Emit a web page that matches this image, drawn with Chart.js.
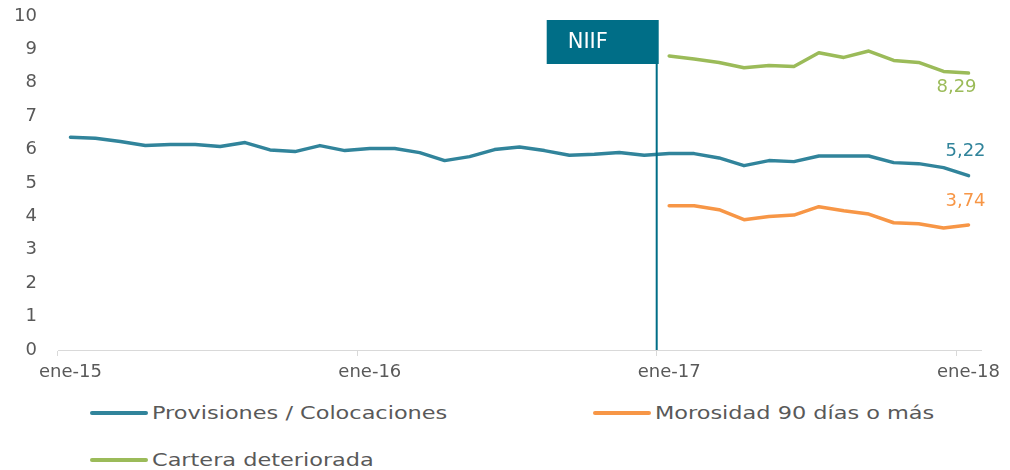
<!DOCTYPE html>
<html lang="es">
<head>
    <meta charset="UTF-8">
    <title>Provisiones y morosidad</title>
    <script src="https://cdn.jsdelivr.net/npm/chart.js"></script>
    <style>
        body {
            margin: 0;
            background: #ffffff;
            font-family: "DejaVu Sans", Verdana, sans-serif;
        }
        .wrap {
            position: relative;
            width: 1010px;
            height: 470px;
        }
        .chart-box {
            position: absolute;
            left: 0;
            top: 0;
            width: 1010px;
            height: 390px;
        }
        .legend-item {
            position: absolute;
            height: 24px;
            display: flex;
            align-items: center;
        }
        .legend-item .swatch {
            width: 58px;
            height: 4px;
            border-radius: 2px;
            margin-right: 4px;
        }
        .legend-item .txt {
            display: inline-block;
            font-size: 17.5px;
            color: #595959;
            white-space: nowrap;
            transform: scaleX(1.28);
            transform-origin: left center;
        }
    </style>
</head>
<body>
<div class="wrap">
    <div class="chart-box"><canvas id="chart"></canvas></div>
    <div id="legend"></div>
</div>

<script>
    // month labels, ene-15 .. ene-18
    var meses = ['ene', 'feb', 'mar', 'abr', 'may', 'jun', 'jul', 'ago', 'sep', 'oct', 'nov', 'dic'];
    var labels = [];
    ['15', '16', '17'].forEach(function (y) {
        meses.forEach(function (m) { labels.push(m + '-' + y); });
    });
    labels.push('ene-18');

    // Provisiones / Colocaciones, ene-15 .. ene-18
    var provisiones = [6.37, 6.34, 6.24, 6.12, 6.15, 6.15, 6.09, 6.21, 5.99, 5.94, 6.12, 5.97,
                       6.03, 6.03, 5.91, 5.67, 5.79, 6.00, 6.08, 5.97, 5.83, 5.86, 5.91, 5.83,
                       5.88, 5.88, 5.75, 5.52, 5.67, 5.64, 5.81, 5.81, 5.81, 5.61, 5.58, 5.46,
                       5.22];
    // Morosidad 90 dias o mas, ene-17 .. ene-18
    var morosidad = [4.32, 4.32, 4.20, 3.90, 4.00, 4.04, 4.29, 4.17, 4.07, 3.81, 3.78, 3.65, 3.74];
    // Cartera deteriorada, ene-17 .. ene-18
    var cartera = [8.80, 8.71, 8.61, 8.45, 8.52, 8.49, 8.90, 8.76, 8.95, 8.67, 8.61, 8.34, 8.29];

    var yTicks = [0, 1, 2, 3, 4, 5, 6, 7, 8, 9, 10];
    var niifStart = 'ene-17';

    function padFront(arr) {
        var out = [];
        for (var i = 0; i < labels.length - arr.length; i++) out.push(null);
        return out.concat(arr);
    }

    var tickFont = { family: '"DejaVu Sans", Verdana, sans-serif', size: 18 };

    // value label at the end of each line
    var endLabels = {
        id: 'endLabels',
        afterDatasetsDraw: function (chart) {
            var ctx = chart.ctx;
            chart.data.datasets.forEach(function (ds, i) {
                if (!ds.endLabel) return;
                var meta = chart.getDatasetMeta(i);
                var pt = meta.data[meta.data.length - 1];
                var v = ds.data[ds.data.length - 1];
                ctx.save();
                ctx.font = '18px "DejaVu Sans", Verdana, sans-serif';
                ctx.fillStyle = ds.borderColor;
                ctx.textAlign = 'center';
                ctx.textBaseline = 'middle';
                ctx.fillText(v.toFixed(2).replace('.', ','), pt.x + ds.endLabel.dx, pt.y + ds.endLabel.dy);
                ctx.restore();
            });
        }
    };

    // vertical line + NIIF box
    var niifMarker = {
        id: 'niifMarker',
        afterDatasetsDraw: function (chart) {
            var ctx = chart.ctx;
            var xs = chart.scales.x;
            var idx = labels.indexOf(niifStart);
            var x = (xs.getPixelForValue(idx - 1) + xs.getPixelForValue(idx)) / 2;
            var bottom = chart.scales.y.getPixelForValue(0);
            var boxTop = 20, boxBottom = 64, boxLeft = x - 110, boxRight = x + 2;
            ctx.save();
            ctx.strokeStyle = '#006E87';
            ctx.lineWidth = 2;
            ctx.beginPath();
            ctx.moveTo(x, bottom);
            ctx.lineTo(x, boxBottom);
            ctx.stroke();
            ctx.fillStyle = '#006E87';
            ctx.fillRect(boxLeft, boxTop, boxRight - boxLeft, boxBottom - boxTop);
            ctx.fillStyle = '#ffffff';
            ctx.font = '21px "DejaVu Sans", Verdana, sans-serif';
            ctx.textAlign = 'left';
            ctx.textBaseline = 'middle';
            ctx.fillText('NIIF', boxLeft + 21, (boxTop + boxBottom) / 2 + 1);
            ctx.restore();
        }
    };

    var datasets = [
        {
            label: 'Provisiones / Colocaciones',
            data: provisiones,
            borderColor: '#31849B',
            endLabel: { dx: -3, dy: -24 }
        },
        {
            label: 'Morosidad 90 días o más',
            data: padFront(morosidad),
            borderColor: '#F79646',
            endLabel: { dx: -3, dy: -24 }
        },
        {
            label: 'Cartera deteriorada',
            data: padFront(cartera),
            borderColor: '#9BBB59',
            endLabel: { dx: -12, dy: 14 }
        }
    ];
    datasets.forEach(function (d) {
        d.borderWidth = 3.5;
        d.pointRadius = 0;
        d.tension = 0;
        d.fill = false;
        d.spanGaps = false;
        d.borderJoinStyle = 'round';
        d.borderCapStyle = 'round';
    });

    var chart = new Chart(document.getElementById('chart').getContext('2d'), {
        type: 'line',
        data: { labels: labels, datasets: datasets },
        options: {
            responsive: true,
            maintainAspectRatio: false,
            animation: false,
            layout: { padding: { left: 0, right: 29, top: 16, bottom: 0 } },
            plugins: {
                legend: { display: false },
                tooltip: { enabled: false }
            },
            scales: {
                x: {
                    offset: true,
                    grid: {
                        offset: true,
                        drawOnChartArea: false,
                        tickLength: 6,
                        color: function (c) { return c.index % 12 === 0 ? '#d9d9d9' : 'rgba(0,0,0,0)'; }
                    },
                    border: { color: '#d9d9d9', width: 1 },
                    ticks: {
                        autoSkip: false,
                        maxRotation: 0,
                        padding: 6,
                        color: '#595959',
                        font: tickFont,
                        callback: function (v, i) { return i % 12 === 0 ? labels[i] : ''; }
                    },
                    afterFit: function (s) { s.height = 40; }
                },
                y: {
                    min: 0,
                    max: 10,
                    grid: { display: false, drawTicks: false },
                    border: { display: false },
                    afterBuildTicks: function (s) {
                        s.ticks = yTicks.map(function (v) { return { value: v }; });
                    },
                    ticks: {
                        padding: 21,
                        color: '#595959',
                        font: tickFont
                    },
                    afterFit: function (s) {
                        s.width = 58;
                        s.paddingTop = 0;
                        s.paddingBottom = 0;
                    }
                }
            }
        },
        plugins: [endLabels, niifMarker]
    });

    // legend laid out in two columns like the original
    var legendPos = [
        { left: 90, top: 401 },
        { left: 593, top: 401 },
        { left: 90, top: 448 }
    ];
    var legendEl = document.getElementById('legend');
    datasets.forEach(function (d, i) {
        var item = document.createElement('div');
        item.className = 'legend-item';
        item.style.left = legendPos[i].left + 'px';
        item.style.top = legendPos[i].top + 'px';
        item.innerHTML = '<span class="swatch" style="background:' + d.borderColor + '"></span>' +
            '<span class="txt">' + d.label + '</span>';
        legendEl.appendChild(item);
    });
</script>
</body>
</html>
